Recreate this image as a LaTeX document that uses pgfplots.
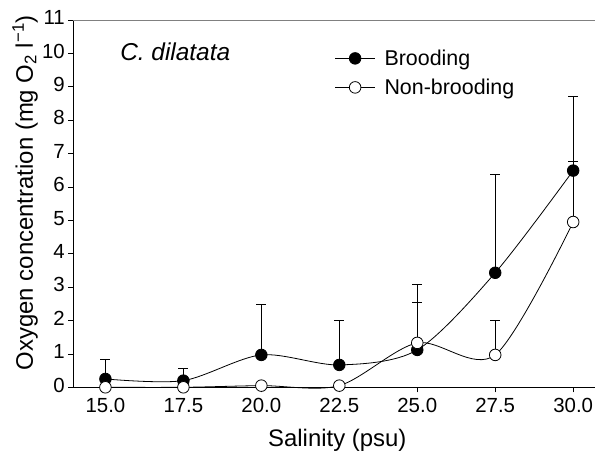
\documentclass[border=0pt]{standalone}
\usepackage{pgfplots}
\pgfplotsset{compat=1.18}
\usepackage{fontspec}
\setmainfont{Liberation Sans}
\begin{document}
\begin{tikzpicture}
\useasboundingbox (-73.3bp,-68.7bp) rectangle (521.7bp,387.3bp);
\begin{axis}[
  at={(0,0)}, anchor=south west,
  scale only axis, width=521.7bp, height=367.3bp,
  xmin=13.97, xmax=30.7, ymin=0, ymax=11,
  axis x line*=bottom, axis y line*=left,
  axis line style={line width=0.8bp, -},
  clip=false,
  xtick={15,17.5,20,22.5,25,27.5,30}, ytick={0,1,...,11},
  xticklabels={15.0,17.5,20.0,22.5,25.0,27.5,30.0},
  typeset ticklabels with strut,
  /pgf/number format/assume math mode=true,
  tick align=outside, major tick length=5bp,
  tick style={line width=0.8bp, black},
  ticklabel style={font=\fontsize{20.5}{24}\selectfont},
  xlabel={Salinity (psu)},
  ylabel={Oxygen concentration (mg O\textsubscript{2} l\textsuperscript{−1})},
  label style={font=\fontsize{24}{28}\selectfont},
  xlabel style={at={(axis description cs:0.506,-0.143)}, anchor=center},
  ylabel style={at={(axis description cs:-0.0926,0.53)}, anchor=center},
  legend style={at={(axis description cs:0.495,0.93)}, anchor=north west, draw=none, fill=none,
    font=\fontsize{21.5}{26}\selectfont, row sep=8bp, column sep=7bp},
  legend cell align=left,
  legend image code/.code={\draw[mark repeat=2, mark phase=2, #1] plot coordinates {(0bp,0bp) (20bp,0bp) (40bp,0bp)};},
]
\draw[gray, line width=0.8bp] (rel axis cs:0,1) -- (rel axis cs:1.05,1);
\draw[black, line width=0.8bp] (rel axis cs:1,0) -- (rel axis cs:1.05,0);
% error bars (upper only)
\addplot[forget plot, only marks, mark=none,
  error bars/.cd, y dir=plus, y explicit,
  error bar style={line width=0.8bp, black, draw=black},
  error mark options={black, line width=0.8bp, mark size=5bp, rotate=90}]
  coordinates {
  (15,0.25) +- (0,0.60)
  (17.5,0.20) +- (0,0.38)
  (20,0.97) +- (0,1.50)
  (22.5,0.67) +- (0,1.32)
  (25,1.12) +- (0,1.95)
  (27.5,3.43) +- (0,2.96)
  (30,6.49) +- (0,2.23)
  (25,1.33) +- (0,1.20)
  (27.5,0.97) +- (0,1.02)
  (30,4.95) +- (0,1.82)
  };
\addplot[black, line width=0.8bp, smooth, mark=*, mark size=5.8bp, mark options={fill=black, solid}]
  coordinates {(15,0.25) (17.5,0.20) (20,0.97) (22.5,0.67) (25,1.12) (27.5,3.43) (30,6.49)};
\addlegendentry{Brooding}
\addplot[black, line width=0.8bp, smooth, mark=*, mark size=5.8bp, mark options={fill=white, solid}]
  coordinates {(15,0) (17.5,0) (20,0.05) (22.5,0.05) (25,1.33) (27.5,0.97) (30,4.95)};
\addlegendentry{Non-brooding}
\node[anchor=west, inner sep=0pt, font=\fontsize{24.5}{29}\selectfont\itshape] at (axis cs:15.47,10.05) {C. dilatata};
\end{axis}
\end{tikzpicture}
\end{document}
